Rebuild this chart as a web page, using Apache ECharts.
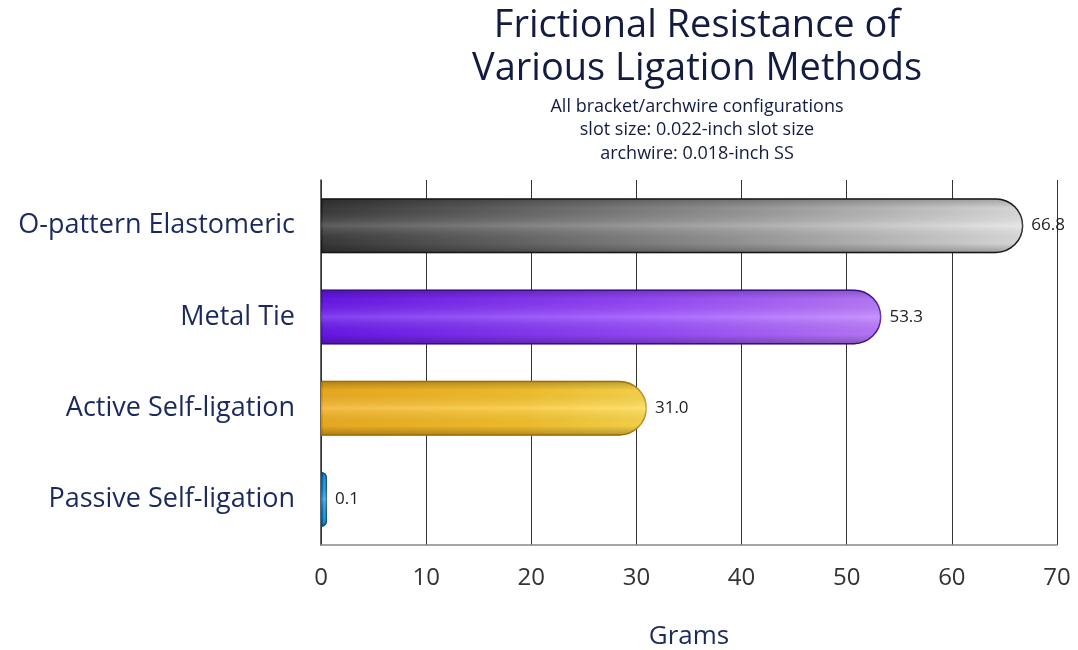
<!DOCTYPE html>
<html><head><meta charset="utf-8">
<script src="https://cdn.jsdelivr.net/npm/echarts@6/dist/echarts.min.js"></script>
<style>html,body{margin:0;padding:0;background:#fff}#c{width:1078px;height:650px}</style>
</head><body><div id="c"></div>
<script>
const categories = ['O-pattern Elastomeric', 'Metal Tie', 'Active Self-ligation', 'Passive Self-ligation'];
const values = [66.8, 53.3, 31.0, 0.1];
const labels = ['66.8', '53.3', '31.0', '0.1'];
const xTicks = [0, 10, 20, 30, 40, 50, 60, 70];

const fills = [
  ['#3a3a3a', '#9a9a9a', '#e2e2e2', '#1e1e1e'],
  ['#6a18ee', '#9a4cff', '#bd7cff', '#5210c0'],
  ['#f3b020', '#f8c42c', '#ffda4c', '#d89400'],
  ['#0e78c8', '#2aa8ec', '#6ad0f8', '#0a5ea8']
];
const font = '"Open Sans", "Noto Sans", sans-serif';

const main = categories.map((c, i) => ({
  value: values[i],
  itemStyle: {
    color: new echarts.graphic.LinearGradient(0, 0, 1, 0, [
      {offset: 0, color: fills[i][0]},
      {offset: 0.6, color: fills[i][1]},
      {offset: 1, color: fills[i][2]}
    ]),
    borderColor: fills[i][3],
    borderWidth: 1.5
  },
  label: {formatter: labels[i]}
}));
const shade = values.map(v => ({value: v}));

const chart = echarts.init(document.getElementById('c'));
chart.setOption({
  backgroundColor: '#fff',
  animation: false,
  title: {
    text: 'Frictional Resistance of\nVarious Ligation Methods',
    subtext: 'All bracket/archwire configurations\nslot size: 0.022-inch slot size\narchwire: 0.018-inch SS',
    left: 692, top: 0, textAlign: 'center', itemGap: 4,
    textStyle: {fontFamily: font, fontSize: 38, fontWeight: 'normal', color: '#121c40', lineHeight: 43},
    subtextStyle: {fontFamily: font, fontSize: 18, color: '#121c40', lineHeight: 23.5}
  },
  grid: {left: 321, right: 21, top: 180, bottom: 105, outerBoundsMode: 'none', containLabel: false},
  xAxis: {
    type: 'value', min: 0, max: 70, interval: 10,
    name: 'Grams', nameLocation: 'middle', nameGap: 79,
    nameTextStyle: {fontFamily: font, fontSize: 26, color: '#1b2a5e'},
    axisLine: {show: true, lineStyle: {color: '#888', width: 1.5}},
    axisTick: {show: false},
    axisLabel: {fontFamily: font, fontSize: 24, color: '#333', margin: 21,
      formatter: v => xTicks.includes(v) ? String(v) : ''},
    splitLine: {show: true, lineStyle: {color: '#333', width: 1}}
  },
  yAxis: {
    type: 'category', data: categories, inverse: true,
    axisLine: {show: true, lineStyle: {color: '#333', width: 1.5}},
    axisTick: {show: false},
    axisLabel: {fontFamily: font, fontSize: 27, color: '#1b2a5e', margin: 26},
    splitLine: {show: false}
  },
  series: [
    {
      type: 'bar', data: main, barWidth: 55, barMinHeight: 6,
      itemStyle: {borderRadius: [0, 28, 28, 0]},
      label: {show: true, position: 'right', distance: 8, fontFamily: font, fontSize: 17, color: '#222'},
      z: 2
    },
    {
      type: 'bar', data: shade, barWidth: 55, barGap: '-100%', barMinHeight: 6,
      silent: true,
      itemStyle: {
        borderRadius: [0, 28, 28, 0],
        color: new echarts.graphic.LinearGradient(0, 0, 0, 1, [
          {offset: 0, color: 'rgba(0,0,0,0.28)'},
          {offset: 0.18, color: 'rgba(0,0,0,0.05)'},
          {offset: 0.5, color: 'rgba(255,255,255,0.18)'},
          {offset: 0.82, color: 'rgba(0,0,0,0.05)'},
          {offset: 1, color: 'rgba(0,0,0,0.3)'}
        ])
      },
      z: 3
    }
  ]
});
</script>
</body></html>
